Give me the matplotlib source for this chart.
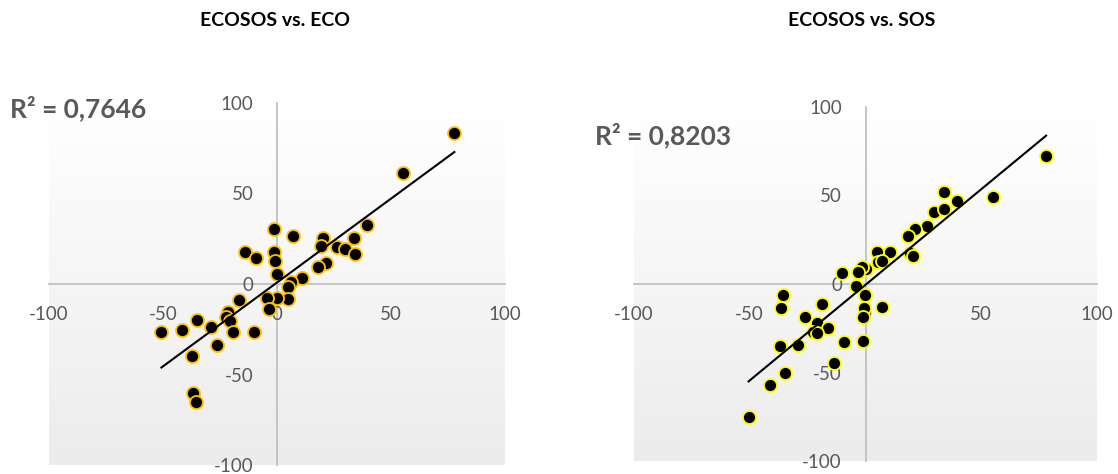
import matplotlib
matplotlib.use('Agg')
import matplotlib.pyplot as plt
import numpy as np

plt.rcParams['font.family'] = ['Lato', 'DejaVu Sans']
plt.rcParams['axes.unicode_minus'] = False

# ECOSOS vs. ECO
eco_x = [77.8, 55.1, 39.6, 33.6, 20.2, 19.1, 26.1, 29.7, 34.0, 21.3, 18.0, 10.8,
         6.9, -1.1, -1.1, -0.8, -0.2, -14.1, -9.4, 6.1, 5.0, 4.9, 0.0, -4.5,
         -3.3, -16.7, -21.3, -22.4, -20.5, -19.2, -10.3, -28.8, -35.1, -41.5,
         -50.7, -26.4, -37.2, -36.9, -35.7]
eco_y = [83.6, 61.2, 32.4, 25.2, 25.6, 21.0, 20.6, 19.1, 16.4, 11.4, 9.2, 3.5,
         26.7, 30.3, 17.5, 12.9, 5.7, 17.5, 14.3, 1.3, -1.8, -8.1, -7.9, -7.5,
         -13.6, -9.0, -15.3, -18.4, -20.2, -26.7, -26.7, -23.5, -19.9, -25.4,
         -26.7, -33.8, -39.9, -60.3, -65.3]

# ECOSOS vs. SOS
sos_x = [78.0, 55.1, 34.1, 39.7, 29.7, 33.7, 26.7, 21.2, 18.2, 19.1, 20.4, 10.7,
         4.8, 5.4, 7.0, 0.2, -1.4, -3.4, -10.2, -4.3, -0.3, -0.8, -0.9, 7.0,
         -0.9, -9.3, -19.0, -26.3, -21.0, -16.4, -22.7, -21.0, -29.0, -36.8,
         -35.7, -36.6, -13.7, -34.9, -41.1, -50.5]
sos_y = [72.4, 49.2, 51.7, 47.0, 40.8, 42.3, 32.5, 31.2, 27.4, 17.7, 15.8, 17.9,
         18.0, 12.2, 13.0, 8.6, 9.4, 7.0, 6.4, -0.9, -6.4, -13.7, -18.8, -13.0,
         -32.3, -32.7, -11.5, -18.8, -21.8, -24.6, -27.3, -27.8, -34.6, -34.8,
         -6.4, -13.3, -44.7, -50.4, -57.3, -75.0]

titles = ['ECOSOS vs. ECO', 'ECOSOS vs. SOS']
r2_labels = ['R² = 0,7646', 'R² = 0,8203']
ticks = [-100, -50, 0, 50, 100]

W, H = 1118, 474
fig = plt.figure(figsize=(W / 100, H / 100), dpi=100)


def px_axes(x0, y0, x1, y1):
    return fig.add_axes([x0 / W, 1 - y1 / H, (x1 - x0) / W, (y1 - y0) / H])


grad = np.linspace(0.925, 1.0, 256).reshape(-1, 1)


def panel(ax, x, y, edge):
    ax.imshow(np.dstack([grad, grad, grad]), extent=(-100, 100, -100, 100),
              aspect='auto', origin='lower', zorder=0)
    ax.set_xlim(-100, 100)
    ax.set_ylim(-100, 100)
    for s in ['top', 'right']:
        ax.spines[s].set_visible(False)
    for s in ['bottom', 'left']:
        ax.spines[s].set_position(('data', 0))
        ax.spines[s].set_color('#c0c0c0')
        ax.spines[s].set_linewidth(1.3)
        ax.spines[s].set_zorder(1)
    ax.set_xticks(ticks)
    ax.set_yticks(ticks)
    ax.tick_params(length=0, labelsize=13.5, labelcolor='#595959')
    ax.tick_params(axis='x', pad=16)
    ax.tick_params(axis='y', pad=17)
    ax.scatter(x, y, s=88, c='black', edgecolors=edge, linewidths=1.3, zorder=3)
    # linear trend line
    k, b = np.polyfit(x, y, 1)
    xs = np.array([min(x), max(x)])
    ax.plot(xs, k * xs + b, color='black', lw=1.5, zorder=4)


ax1 = px_axes(49, 103, 505, 465)
panel(ax1, eco_x, eco_y, '#FFC000')
ax2 = px_axes(634, 107, 1097, 461)
panel(ax2, sos_x, sos_y, '#FFFF00')

fig.text(275 / W, 1 - 20 / H, titles[0], ha='center', va='center',
         fontsize=14, fontweight='bold', color='black')
fig.text(862 / W, 1 - 20 / H, titles[1], ha='center', va='center',
         fontsize=14, fontweight='bold', color='black')
fig.text(10 / W, 1 - 108 / H, r2_labels[0], ha='left', va='center',
         fontsize=19, fontweight='bold', color='#595959')
fig.text(595 / W, 1 - 135 / H, r2_labels[1], ha='left', va='center',
         fontsize=19, fontweight='bold', color='#595959')

fig.savefig('out.png', dpi=100)
